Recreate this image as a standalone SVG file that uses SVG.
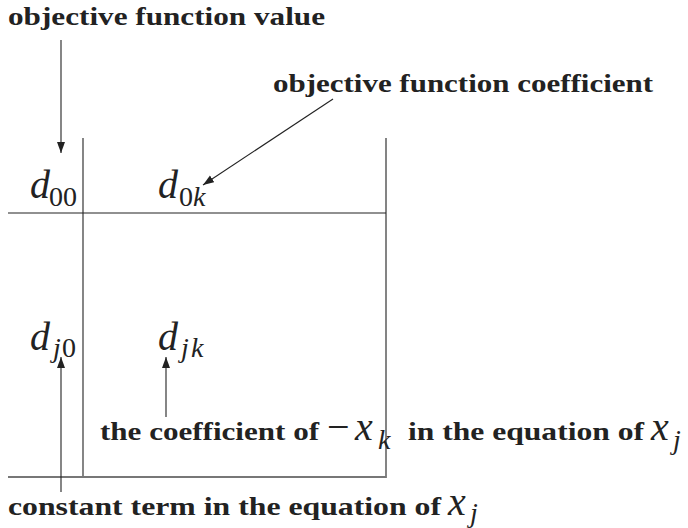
<svg xmlns="http://www.w3.org/2000/svg" width="688" height="528" viewBox="0 0 688 528">
<style>
.b{font-family:"Liberation Serif","Times New Roman",serif;font-weight:bold;font-size:26px;fill:#222}
.m{font-family:"Liberation Serif","Times New Roman",serif;font-style:italic;font-size:40px;fill:#222}
.s{font-family:"Liberation Serif","Times New Roman",serif;font-size:28px;fill:#222}
.si{font-family:"Liberation Serif","Times New Roman",serif;font-style:italic;font-size:28px;fill:#222}
.r{font-family:"Liberation Serif","Times New Roman",serif;font-size:40px;fill:#222}
.ln{stroke:#222;stroke-width:1.1;fill:none}
.gr{stroke:#777;stroke-width:1.8;fill:none}
.ar{stroke:#222;stroke-width:1.1;fill:none;marker-end:url(#ah)}
</style>
<defs>
<marker id="ah" markerUnits="userSpaceOnUse" markerWidth="12" markerHeight="9" refX="11" refY="4" orient="auto">
<path d="M0,0 L11,4 L0,8 z" fill="#222"/>
</marker>
</defs>
<rect width="688" height="528" fill="#fff"/>
<g id="tableau">
<line class="ln" x1="83" y1="138" x2="83" y2="477"/>
<line class="gr" x1="386" y1="138" x2="386" y2="478"/>
<line class="ln" x1="8" y1="213" x2="386" y2="213"/>
<line class="gr" x1="8" y1="477" x2="386" y2="477"/>
</g>
<g id="d00"><text class="m" x="30" y="198">d</text><text class="s" x="49" y="206">00</text></g>
<g id="d0k"><text class="m" x="158" y="198">d</text><text class="s" x="179" y="206">0</text><text class="si" x="193" y="206">k</text></g>
<g id="dj0"><text class="m" x="30" y="350">d</text><text class="si" x="53" y="357">j</text><text class="s" x="62" y="357">0</text></g>
<g id="djk"><text class="m" x="158" y="350">d</text><text class="si" x="181" y="357">j</text><text class="si" x="191" y="357">k</text></g>
<g id="label-ofv"><text class="b" x="8" y="25" textLength="317" lengthAdjust="spacingAndGlyphs">objective function value</text></g>
<g id="label-ofc"><text class="b" x="273" y="92" textLength="380" lengthAdjust="spacingAndGlyphs">objective function coefficient</text></g>
<g id="label-coef">
<text class="b" x="100" y="440" textLength="219" lengthAdjust="spacingAndGlyphs">the coefficient of</text>
<text class="r" x="327" y="440">−</text>
<text class="m" x="355" y="440">x</text><text class="si" x="378" y="449">k</text>
<text class="b" x="408" y="440" textLength="236" lengthAdjust="spacingAndGlyphs">in the equation of</text>
<text class="m" x="651" y="440">x</text><text class="si" x="673" y="449">j</text>
</g>
<g id="label-const">
<text class="b" x="8" y="515" textLength="433" lengthAdjust="spacingAndGlyphs">constant term in the equation of</text>
<text class="m" x="448" y="515">x</text><text class="si" x="470" y="522">j</text>
</g>
<g id="connectors">
<line class="ar" x1="61" y1="40" x2="61" y2="153"/>
<line class="ar" x1="333" y1="99" x2="203" y2="185"/>
<line class="ar" x1="61" y1="492" x2="61" y2="357"/>
<line class="ar" x1="166" y1="417" x2="166" y2="357"/>
</g>
</svg>
